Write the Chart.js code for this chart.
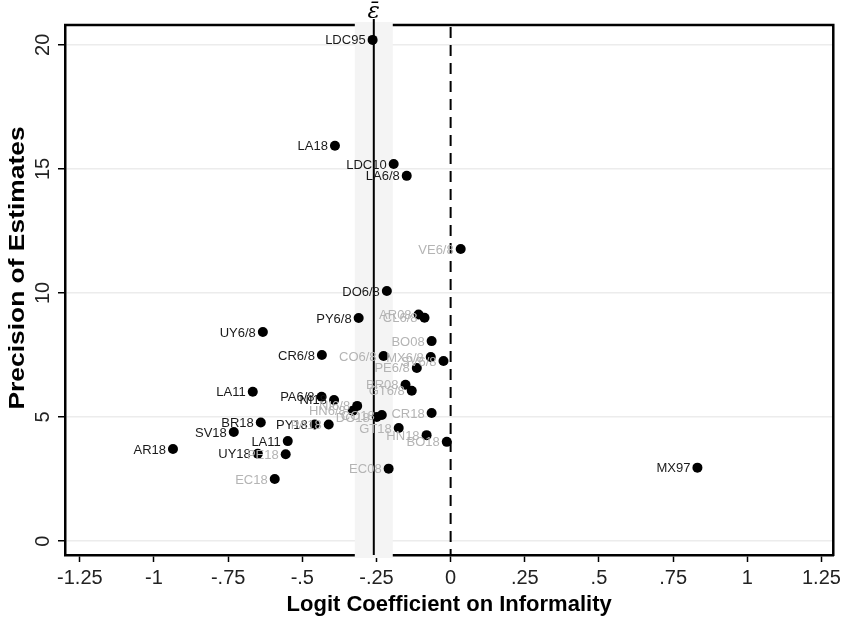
<!DOCTYPE html>
<html>
<head>
<meta charset="utf-8">
<script src="https://cdn.jsdelivr.net/npm/chart.js@4.4.1/dist/chart.umd.min.js"></script>
<style>
  html, body { margin: 0; padding: 0; background: #fff; }
  canvas { display: block; }
</style>
</head>
<body>
<canvas id="funnelChart" width="845" height="622"></canvas>
<script>
// estimates: label, logit coefficient, precision (1/se)
const pointLabels = [
  'LDC95', 'LA18', 'LDC10', 'LA6/8', 'DO6/8', 'PY6/8', 'UY6/8', 'CR6/8',
  'LA11', 'PA6/8', 'NI18', 'BR18', 'SV18', 'PY18', 'PA18', 'LA11',
  'AR18', 'UY18', 'PE18', 'EC18', 'EC08', 'MX97', 'VE6/8', 'AR08',
  'CL6/8', 'BO08', 'CO6/8', 'MX6/8', 'SV6/8', 'PE6/8', 'BR08', 'GT6/8',
  'NI6/8', 'HN6/8', 'DO18', 'CO18', 'CR18', 'GT18', 'HN18', 'BO18'
];
const coefValues = [
  -0.263, -0.390, -0.192, -0.148, -0.215, -0.310, -0.633, -0.434,
  -0.667, -0.435, -0.393, -0.640, -0.731, -0.458, -0.411, -0.549,
  -0.936, -0.650, -0.556, -0.593, -0.209, 0.832, 0.034, -0.108,
  -0.088, -0.064, -0.226, -0.067, -0.024, -0.114, -0.152, -0.131,
  -0.315, -0.330, -0.249, -0.232, -0.064, -0.175, -0.081, -0.013
];
const precisionValues = [
  20.2, 15.93, 15.2, 14.72, 10.08, 8.99, 8.43, 7.5,
  6.02, 5.82, 5.69, 4.78, 4.4, 4.7, 4.7, 4.03,
  3.71, 3.52, 3.5, 2.5, 2.92, 2.96, 11.77, 9.13,
  9.0, 8.06, 7.46, 7.42, 7.26, 6.98, 6.3, 6.06,
  5.45, 5.25, 5.0, 5.08, 5.16, 4.56, 4.27, 4.0
];
// 1 = label printed in light grey
const labelGrey = [
  0, 0, 0, 0, 0, 0, 0, 0,
  0, 0, 0, 0, 0, 0, 1, 0,
  0, 0, 1, 1, 1, 0, 1, 1,
  1, 1, 1, 1, 1, 1, 1, 1,
  1, 1, 1, 1, 1, 1, 1, 1
];

// mean effect and its confidence band
const meanCoef = -0.259;
const bandLow = -0.323;
const bandHigh = -0.195;

const xTickValues = [-1.25, -1, -0.75, -0.5, -0.25, 0, 0.25, 0.5, 0.75, 1, 1.25];
const xTickLabels = ['-1.25', '-1', '-.75', '-.5', '-.25', '0', '.25', '.5', '.75', '1', '1.25'];
const yTickValues = [0, 5, 10, 15, 20];
const yTitle = 'Precision of Estimates';

const FONT = '"Liberation Sans", Arial, sans-serif';

// フレーム・帯・基準線・ラベルの描画
const funnelDecor = {
  id: 'funnelDecor',
  beforeDatasetsDraw(chart) {
    const { ctx, chartArea: a, scales: { x } } = chart;
    ctx.save();
    ctx.strokeStyle = '#000';
    ctx.lineWidth = 2.5;
    ctx.beginPath();
    ctx.moveTo(a.left - 1, a.top);
    ctx.lineTo(a.right, a.top);
    ctx.lineTo(a.right, a.bottom + 1);
    ctx.stroke();

    const b0 = x.getPixelForValue(bandLow);
    const b1 = x.getPixelForValue(bandHigh);
    ctx.fillStyle = '#f4f4f4';
    ctx.fillRect(b0, a.top - 3, b1 - b0, a.bottom - a.top + 6);

    const zx = x.getPixelForValue(0);
    ctx.lineWidth = 2;
    ctx.setLineDash([11, 7]);
    ctx.beginPath();
    ctx.moveTo(zx, a.top + 2);
    ctx.lineTo(zx, a.bottom);
    ctx.stroke();
    ctx.setLineDash([]);

    const mx = x.getPixelForValue(meanCoef);
    ctx.beginPath();
    ctx.moveTo(mx, a.top - 6);
    ctx.lineTo(mx, a.bottom);
    ctx.stroke();

    ctx.fillStyle = '#000';
    ctx.font = 'italic 23px "DejaVu Serif", serif';
    ctx.textAlign = 'center';
    ctx.textBaseline = 'alphabetic';
    ctx.fillText('\u03B5\u0304', mx, a.top - 7);
    ctx.restore();
  },
  afterDatasetsDraw(chart) {
    const { ctx } = chart;
    const meta = chart.getDatasetMeta(0);
    ctx.save();
    ctx.font = '13px ' + FONT;
    ctx.textAlign = 'right';
    ctx.textBaseline = 'middle';
    meta.data.forEach((pt, i) => {
      ctx.fillStyle = labelGrey[i] ? '#b4b4b4' : '#1a1a1a';
      ctx.fillText(pointLabels[i], pt.x - 7, pt.y + 1);
    });
    ctx.restore();
  },
  afterDraw(chart) {
    // y軸タイトル（縦に少し引き伸ばす）
    const { ctx, chartArea: a } = chart;
    ctx.save();
    ctx.translate(18, (a.top + a.bottom) / 2 - 22);
    ctx.rotate(-Math.PI / 2);
    ctx.scale(1.2, 1);
    ctx.font = 'bold 22px ' + FONT;
    ctx.fillStyle = '#000';
    ctx.textAlign = 'center';
    ctx.textBaseline = 'middle';
    ctx.fillText(yTitle, 0, 0);
    ctx.restore();
  }
};

const points = coefValues.map((v, i) => ({ x: v, y: precisionValues[i] }));

const ctx = document.getElementById('funnelChart').getContext('2d');
new Chart(ctx, {
  type: 'scatter',
  data: {
    datasets: [{
      data: points,
      backgroundColor: '#000',
      borderWidth: 0,
      pointRadius: 5,
      pointHoverRadius: 5
    }]
  },
  options: {
    responsive: false,
    animation: false,
    layout: { padding: { top: 25, right: 8, left: 0, bottom: 0 } },
    scales: {
      x: {
        type: 'linear',
        min: -1.3,
        max: 1.29,
        afterBuildTicks: s => { s.ticks = xTickValues.map(v => ({ value: v })); },
        afterFit: s => { s.height = 67; },
        grid: { drawOnChartArea: false, tickColor: '#000', tickLength: 7, tickWidth: 1.5 },
        border: { color: '#000', width: 2.5 },
        ticks: {
          padding: 4,
          color: '#222',
          maxRotation: 0,
          font: { family: FONT, size: 20 },
          callback: (v) => xTickLabels[xTickValues.indexOf(v)]
        },
        title: {
          display: true,
          text: 'Logit Coefficient on Informality',
          color: '#000',
          font: { family: FONT, size: 22, weight: 'bold' },
          padding: { top: 0, bottom: 4 }
        }
      },
      y: {
        type: 'linear',
        min: -0.56,
        max: 20.8,
        afterBuildTicks: s => { s.ticks = yTickValues.map(v => ({ value: v })); },
        afterFit: s => { s.width = 65; },
        grid: { color: '#ececec', lineWidth: 1.5, tickColor: '#000', tickLength: 7, tickWidth: 1.5 },
        border: { color: '#000', width: 2.5 },
        ticks: {
          minRotation: 90,
          maxRotation: 90,
          crossAlign: 'center',
          padding: 3,
          color: '#222',
          font: { family: FONT, size: 20 }
        },
        title: { display: false }
      }
    },
    plugins: {
      legend: { display: false },
      tooltip: { enabled: false }
    }
  },
  plugins: [funnelDecor]
});
</script>
</body>
</html>
